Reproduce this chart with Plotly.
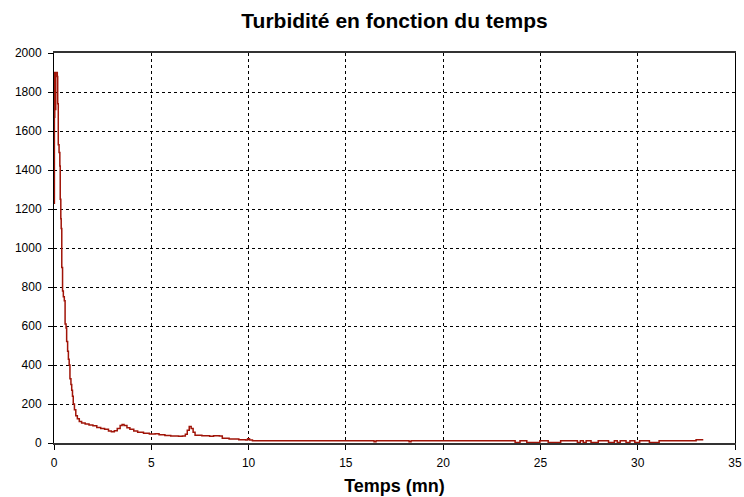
import plotly.graph_objects as go

# Temps (mn)
temps = [0.00, 0.02, 0.04, 0.07, 0.09, 0.17, 0.19, 0.22, 0.26, 0.30, 0.32, 0.35, 0.37, 0.40, 0.44,
         0.48, 0.53, 0.57, 0.62, 0.65, 0.70, 0.74, 0.78, 0.82, 0.87, 0.91, 0.95, 0.99, 1.05, 1.12,
         1.20, 1.30, 1.42, 1.60, 1.80, 2.00, 2.20, 2.40, 2.60, 2.80, 2.95, 3.10, 3.25, 3.40, 3.50,
         3.60, 3.75, 3.90, 4.10, 4.30, 4.60, 4.90, 5.20, 5.40, 5.70, 6.00, 6.40, 6.60, 6.75, 6.85,
         6.95, 7.05, 7.15, 7.25, 7.60, 8.00, 8.20, 8.50, 8.65, 9.00, 9.50, 9.85, 9.95, 10.05, 10.20,
         16.45, 16.55, 18.25, 18.35, 23.70, 23.95, 24.30, 24.97, 25.40, 26.04, 26.90, 27.05, 27.20,
         27.35, 27.60, 27.97, 28.50, 28.80, 28.95, 29.10, 29.40, 29.60, 29.85, 30.10, 30.60, 31.10,
         33.00, 33.37]

# Turbidité
turbidite = [1230, 1670, 1900, 1710, 1900, 1880, 1740, 1530, 1490, 1420, 1250, 1150, 1100, 900, 780,
             750, 730, 610, 590, 520, 470, 430, 400, 330, 300, 270, 240, 200, 170, 140,
             125, 110, 103, 98, 92, 88, 80, 75, 70, 62, 58, 63, 75, 90, 95,
             90, 78, 70, 62, 55, 50, 46, 48, 42, 38, 36, 34, 36, 45, 65,
             85, 75, 55, 40, 37, 34, 37, 36, 25, 20, 17, 15, 22, 15, 12,
             6, 12, 6, 12, 3, 12, 3, 12, 3, 12, 3, 12, 3,
             12, 3, 12, 3, 12, 3, 12, 3, 12, 3, 12, 3, 12,
             17, 17]

x_ticks = [0, 5, 10, 15, 20, 25, 30, 35]
y_ticks = [0, 200, 400, 600, 800, 1000, 1200, 1400, 1600, 1800, 2000]

FONT = "Liberation Sans, Arial, sans-serif"

W, H = 744, 497

fig = go.Figure()
fig.add_trace(go.Scatter(
    x=temps, y=turbidite, mode="lines",
    line=dict(color="#A01408", width=1.5, shape="hv"),
    showlegend=False, hoverinfo="x+y",
))

fig.update_layout(
    width=W, height=H,
    margin=dict(l=54, r=9, t=53, b=54, autoexpand=False),
    paper_bgcolor="white", plot_bgcolor="white",
    font=dict(family=FONT, size=12, color="black"),
    title=dict(text="<b>Turbidité en fonction du temps</b>",
               font=dict(family=FONT, size=21, color="black"),
               x=0.5, xref="paper", xanchor="center",
               y=1 - 21 / H, yref="container", yanchor="middle"),
)

fig.update_xaxes(
    range=[0, 35], tickvals=x_ticks, ticktext=[str(v) for v in x_ticks],
    showline=True, linecolor="#333333", linewidth=2, mirror=True,
    ticks="outside", ticklen=5, tickcolor="black", tickwidth=1,
    ticklabelstandoff=3,
    showgrid=True, gridcolor="black", gridwidth=1, griddash="3px,3px",
    zeroline=False,
    title=dict(text="<b>Temps (mn)</b>", font=dict(family=FONT, size=18, color="black"),
               standoff=10),
    tickfont=dict(family=FONT, size=12, color="black"),
)
fig.update_yaxes(
    range=[0, 2000], tickvals=y_ticks, ticktext=[str(v) for v in y_ticks],
    showline=True, linecolor="black", linewidth=1, mirror=True,
    ticks="outside", ticklen=5, tickcolor="black", tickwidth=1,
    ticklabelstandoff=4,
    showgrid=True, gridcolor="black", gridwidth=1, griddash="3px,3px",
    zeroline=False,
    tickfont=dict(family=FONT, size=12, color="black"),
)

# Remove the default 8px page margin so the figure fills the window exactly.
fig.write_html("out.html",
               config={"displayModeBar": False},
               post_script="document.body.style.margin='0';document.body.style.overflow='hidden';")
